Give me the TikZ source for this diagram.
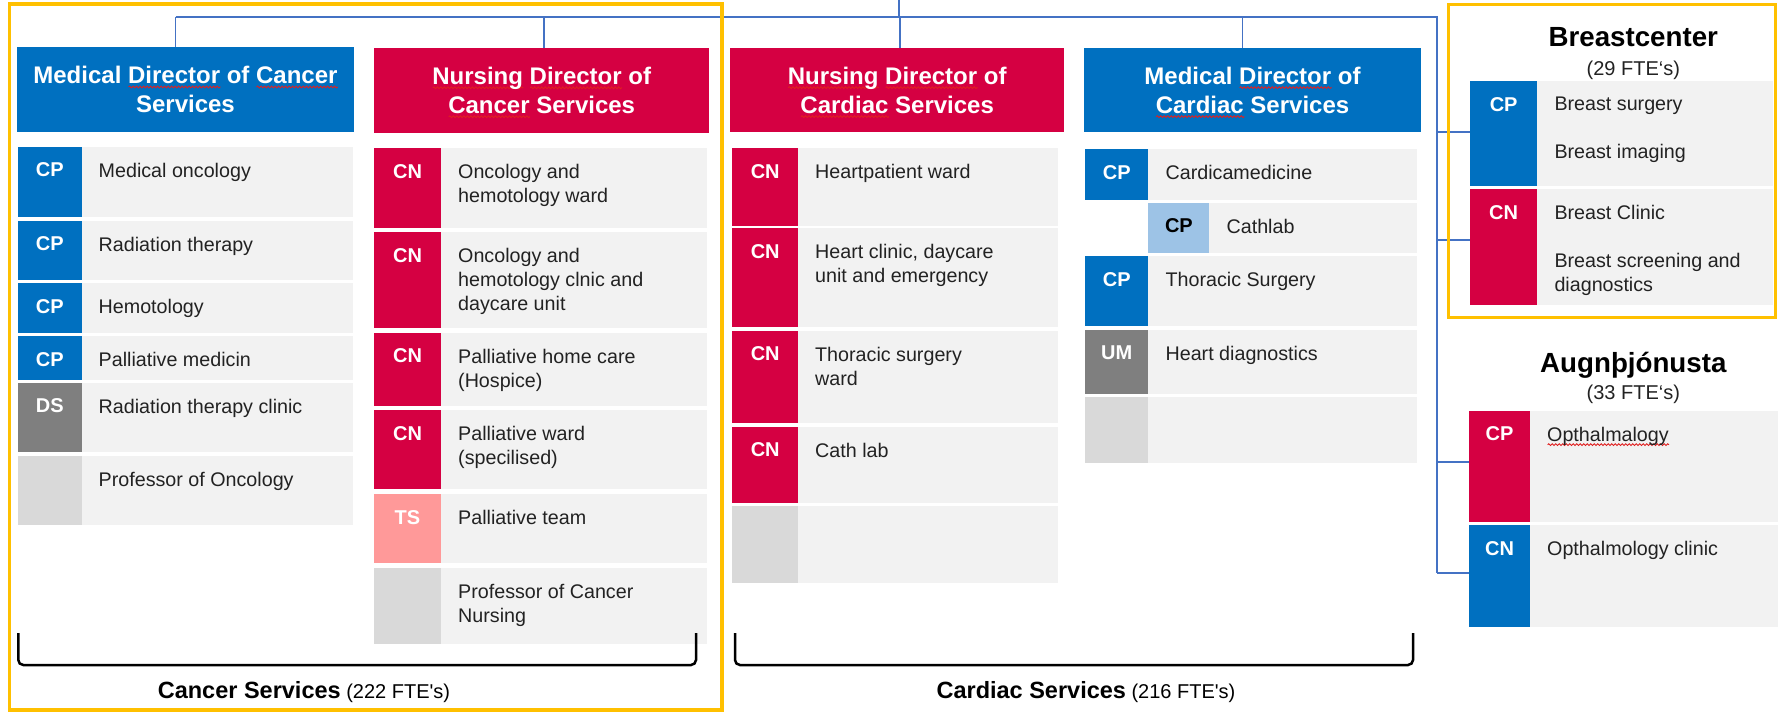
\documentclass[tikz,border=0pt]{standalone}
\usepackage{fontspec}
\setmainfont{Liberation Sans}
\usetikzlibrary{calc,decorations.pathmorphing}
\definecolor{cblue}{HTML}{0070C0}
\definecolor{cred}{HTML}{D50042}
\definecolor{cpink}{HTML}{FF9999}
\definecolor{clblue}{HTML}{9DC3E6}
\definecolor{cdgray}{HTML}{7F7F7F}
\definecolor{clgray}{HTML}{D9D9D9}
\definecolor{panelgray}{HTML}{F2F2F2}
\definecolor{txt}{HTML}{222222}
\definecolor{conncol}{HTML}{4472C4}
\definecolor{frameyellow}{HTML}{FFC000}
\definecolor{sqred}{HTML}{E02020}
\newsavebox\sqbox
\newcommand\sq[1]{\sbox\sqbox{#1}\rlap{\smash{\raisebox{-3.5pt}{\tikz[baseline=0pt]\draw[sqred, line width=0.9pt, decorate, decoration={snake, amplitude=0.9pt, segment length=3.5pt}] (0pt,0pt) -- (\wd\sqbox,0pt);}}}\usebox\sqbox}
\tikzset{
  conn/.style={draw=conncol, line width=1.5pt},
  frame/.style={draw=frameyellow, line width=3.2pt},
  hdr/.style={text=white, font=\bfseries\fontsize{24}{29}\selectfont, align=center, inner sep=0, anchor=north west},
  badgetxt/.style={text=white, font=\bfseries\fontsize{20}{24}\selectfont, inner sep=0, anchor=north},
  bodytxt/.style={text=txt, font=\fontsize{19.7}{24}\selectfont, inner sep=0, align=left, anchor=north west},
  brace/.style={draw=black, line width=2.5pt, rounded corners=5pt},
  title/.style={text=black, font=\bfseries\fontsize{27.7}{32}\selectfont, inner sep=0, anchor=base},
  fte/.style={text=txt, font=\fontsize{20}{24}\selectfont, inner sep=0, anchor=base},
  grouplab/.style={text=black, font=\fontsize{20}{24}\selectfont, inner sep=0, anchor=base},
}
% #1 name, #2 badge left, #3 badge right, #4 panel right, #5 top, #6 bottom, #7 badge colour, #8 badge text, #9 text
\newcommand\entry[9]{%
  \fill[panelgray] (#3,#5) rectangle (#4,#6);
  \node[fill=#7, inner sep=0, outer sep=0, minimum width={#3-#2}, minimum height={#6-#5}, anchor=north west] (#1) at (#2,#5) {};
  \node[badgetxt] (#1-b) at ({(#2+#3)/2},{#5+16}) {#8};
  \node[bodytxt] (#1-t) at ({#3+17},{#5+16}) {#9};
}
\begin{document}
\begin{tikzpicture}[x=1pt,y=-1pt]
\useasboundingbox (0,0) rectangle (1778,712);
\fill[white] (0,0) rectangle (1778,712);

% headers
\node[hdr, fill=cblue, minimum width=337.5, minimum height=85] (h1) at (16.5,46.7) {Medical \sq{Director} of \sq{Cancer}\\Services};
\node[hdr, fill=cred, minimum width=335, minimum height=84.6] (h2) at (374,47.7) {\sq{Nursing} \sq{Director} of\\\sq{Cancer} Services};
\node[hdr, fill=cred, minimum width=334, minimum height=84.3] (h3) at (730,47.7) {\sq{Nursing} \sq{Director} of\\\sq{Cardiac} Services};
\node[hdr, fill=cblue, minimum width=337.4, minimum height=84.3] (h4) at (1083.6,47.7) {Medical \sq{Director} of\\\sq{Cardiac} Services};

% column 1
\entry{a1}{18}{81.5}{353}{146.7}{217}{cblue}{CP}{Medical oncology}
\entry{a2}{18}{81.5}{353}{220.7}{280}{cblue}{CP}{Radiation therapy}
\entry{a3}{18}{81.5}{353}{283.3}{332.7}{cblue}{CP}{Hemotology}
\entry{a4}{18}{81.5}{353}{336}{380}{cblue}{CP}{Palliative medicin}
\entry{a5}{18}{81.5}{353}{382.7}{452}{cdgray}{DS}{Radiation therapy clinic}
\entry{a6}{18}{81.5}{353}{455.7}{525}{clgray}{}{Professor of Oncology}

% column 2
\entry{b1}{374}{441}{706.5}{148.3}{228.3}{cred}{CN}{Oncology and\\hemotology ward}
\entry{b2}{374}{441}{706.5}{232.3}{328.3}{cred}{CN}{Oncology and\\hemotology clnic and\\daycare unit}
\entry{b3}{374}{441}{706.5}{332.7}{405.7}{cred}{CN}{Palliative home care\\(Hospice)}
\entry{b4}{374}{441}{706.5}{410}{489.3}{cred}{CN}{Palliative ward\\(specilised)}
\entry{b5}{374}{441}{706.5}{494}{562.7}{cpink}{TS}{Palliative team}
\entry{b6}{374}{441}{706.5}{567.7}{644.3}{clgray}{}{Professor of Cancer\\Nursing}

% column 3
\entry{c1}{732.4}{798}{1058.4}{148.3}{225.7}{cred}{CN}{Heartpatient ward}
\entry{c2}{732.4}{798}{1058.4}{228.3}{327.3}{cred}{CN}{Heart clinic, daycare\\unit and emergency}
\entry{c3}{732.4}{798}{1058.4}{330.7}{423.3}{cred}{CN}{Thoracic surgery\\ward}
\entry{c4}{732.4}{798}{1058.4}{426.7}{502.7}{cred}{CN}{Cath lab}
\entry{c5}{732.4}{798}{1058.4}{505.7}{583.3}{clgray}{}{}

% column 4
\entry{d1}{1085}{1148.4}{1416.5}{149.3}{200}{cblue}{CP}{Cardicamedicine}
\entry{d2}{1148.4}{1209.4}{1416.5}{202.7}{253.3}{clblue}{\color{black}CP}{Cathlab}
\entry{d3}{1085}{1148.4}{1416.5}{256}{326}{cblue}{CP}{Thoracic Surgery}
\entry{d4}{1085}{1148.4}{1416.5}{330}{394.3}{cdgray}{UM}{Heart diagnostics}
\entry{d5}{1085}{1148.4}{1416.5}{397.3}{462.7}{clgray}{}{}

% Breastcenter
\node[title] (bct) at (1633.3,46.7) {Breastcenter};
\node[fte] (bcf) at (1633.3,75) {(29 FTE‘s)};
\entry{e1}{1470}{1537.3}{1773.3}{81}{185.7}{cblue}{CP}{Breast surgery\\[24pt]Breast imaging}
\entry{e2}{1470}{1537.3}{1773.3}{189.3}{305}{cred}{CN}{Breast Clinic\\[24pt]Breast screening and\\diagnostics}

% Augnthjonusta
\node[title] (agt) at (1633.3,372.7) {Augnþjónusta};
\node[fte] (agf) at (1633.3,399) {(33 FTE‘s)};
\entry{f1}{1469}{1530}{1778}{410.7}{521.7}{cred}{CP}{\sq{Opthalmalogy}}
\entry{f2}{1469}{1530}{1778}{525}{627.3}{cblue}{CN}{Opthalmology clinic}

% connectors
\coordinate (root) at (899,0);
\coordinate (bus) at (899,17);
\coordinate (k1) at (175.5,17);
\coordinate (k2) at (544,17);
\coordinate (k3) at (900,17);
\coordinate (k4) at (1242.5,17);
\coordinate (rv) at (1437,17);
\coordinate (j1) at (1437,132);
\coordinate (j2) at (1437,240);
\coordinate (j3) at (1437,462);
\coordinate (j4) at (1437,573);
\draw[conn] (root) -- (bus);
\draw[conn] (k1) -- (rv) -- (j4);
\draw[conn] (k1) -- (k1 |- h1.north);
\draw[conn] (k2) -- (k2 |- h2.north);
\draw[conn] (k3) -- (k3 |- h3.north);
\draw[conn] (k4) -- (k4 |- h4.north);
\draw[conn] (j1) -- (j1 -| e1.west);
\draw[conn] (j2) -- (j2 -| e2.west);
\draw[conn] (j3) -- (j3 -| f1.west);
\draw[conn] (j4) -- (j4 -| f2.west);

% frames
\draw[frame] (9.3,4) rectangle (722,710);
\draw[frame] (1448.3,4.7) rectangle (1775.5,317.3);

% brackets and labels
\coordinate (br1a) at (18.3,633);
\coordinate (br1b) at (696,633);
\draw[brace] (br1a) -- (18.3,665) -- (696,665) -- (br1b);
\coordinate (br2a) at (735,633);
\coordinate (br2b) at (1413,633);
\draw[brace] (br2a) -- (735,665) -- (1413,665) -- (br2b);
\node[grouplab] (lab1) at (304,698.3) {{\bfseries\fontsize{23.5}{28}\selectfont Cancer Services} (222 FTE\textquotesingle s)};
\node[grouplab] (lab2) at (1086,698.3) {{\bfseries\fontsize{23.5}{28}\selectfont Cardiac Services} (216 FTE\textquotesingle s)};
\end{tikzpicture}
\end{document}
